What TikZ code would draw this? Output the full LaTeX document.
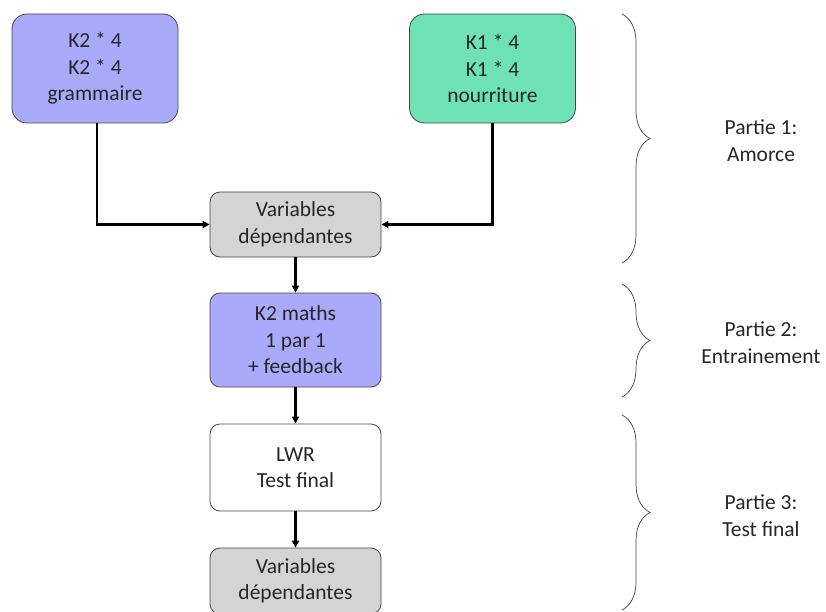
\documentclass[tikz,border=0pt]{standalone}
\usepackage{fontspec}
\setmainfont{Carlito}
\usetikzlibrary{arrows.meta,decorations.pathreplacing}
\definecolor{lav}{RGB}{170,170,250}
\definecolor{mint}{RGB}{110,226,180}
\definecolor{vgray}{RGB}{212,212,212}
\definecolor{bord}{RGB}{70,70,70}
\begin{document}
\begin{tikzpicture}[x=1pt,y=-1pt,
  box/.style={draw=bord,line width=0.8pt,align=center,inner sep=0pt,
    font=\fontsize{21.5}{26.5}\selectfont,text=black!85},
  bigbox/.style={box,rounded corners=15pt,minimum width=166pt,minimum height=109pt},
  smallbox/.style={box,rounded corners=10pt,minimum width=171pt},
  conn/.style={line width=2.2pt,-{Triangle[length=7pt,width=7pt]}},
  brc/.style={draw=black!75,line width=0.7pt,decorate,decoration={brace,amplitude=28pt}},
  lbl/.style={align=center,font=\fontsize{21.5}{27}\selectfont,text=black!85}]
\useasboundingbox (0,0) rectangle (826,612);
\node[bigbox,fill=lav] (k2) at (95,68.5) {K2 * 4\\K2 * 4\\grammaire};
\node[bigbox,fill=mint] (k1) at (492.5,68.5) {K1 * 4\\K1 * 4\\nourriture};
\node[smallbox,fill=vgray,minimum height=65pt] (vd1) at (295.5,224.5) {Variables\\dépendantes};
\node[smallbox,fill=lav,minimum height=94pt] (km) at (295.5,340) {K2 maths\\1 par 1\\+ feedback};
\node[smallbox,fill=white,minimum height=87pt] (lwr) at (295.5,467.5) {LWR\\Test final};
\node[smallbox,fill=vgray,minimum height=66pt] (vd2) at (295.5,581) {Variables\\dépendantes};
\draw[conn] ([xshift=1.7pt]k2.south) |- (vd1.west);
\draw[conn] (k1.south) |- (vd1.east);
\draw[conn] (vd1) -- (km);
\draw[conn] (km) -- (lwr);
\draw[conn] (lwr) -- (vd2);
\coordinate (b1t) at (622,14); \coordinate (b1b) at (622,263);
\coordinate (b2t) at (622,284); \coordinate (b2b) at (622,397);
\coordinate (b3t) at (622,415); \coordinate (b3b) at (622,610);
\draw[brc] (b1t) -- (b1b);
\draw[brc] (b2t) -- (b2b);
\draw[brc] (b3t) -- (b3b);
\node[lbl] (p1) at (761,141) {Partie 1:\\Amorce};
\node[lbl] (p2) at (761,343) {Partie 2:\\Entrainement};
\node[lbl] (p3) at (761,516) {Partie 3:\\Test final};
\end{tikzpicture}
\end{document}
